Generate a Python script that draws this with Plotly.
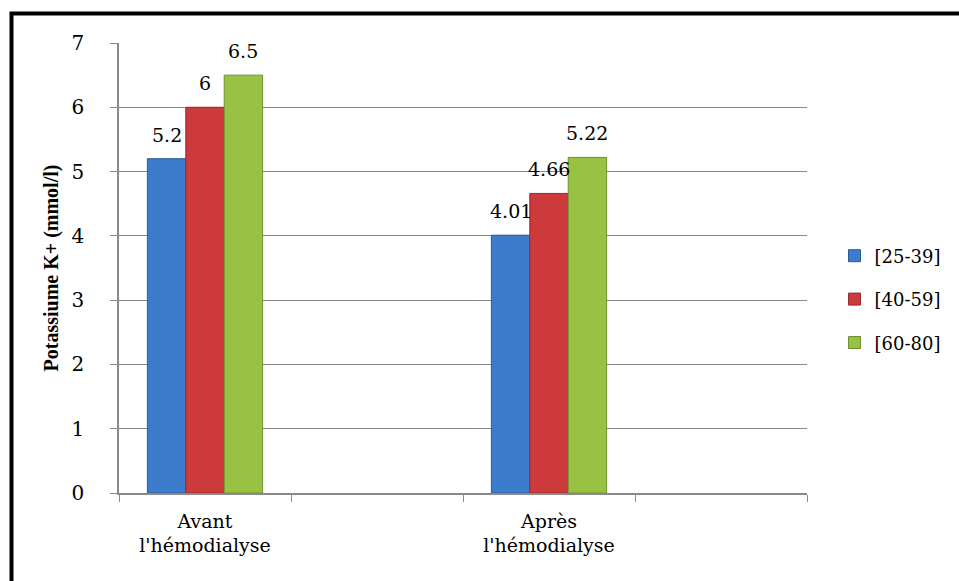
import plotly.graph_objects as go

# Serum potassium by age group, before and after haemodialysis
periods = ["Avant<br>l'hémodialyse", "Après<br>l'hémodialyse"]
axis_slots = [periods[0], " ", periods[1], "  "]
age_groups = ["[25-39]", "[40-59]", "[60-80]"]
k_25_39 = [5.2, 4.01]
k_40_59 = [6, 4.66]
k_60_80 = [6.5, 5.22]
value_labels = [["5.2", "4.01"], ["6", "4.66"], ["6.5", "5.22"]]
y_ticks = [0, 1, 2, 3, 4, 5, 6, 7]

series = [k_25_39, k_40_59, k_60_80]
fills = ["#3d7bcc", "#cd3a3b", "#97c244"]
edges = ["#2b5a98", "#972a2b", "#6f8f30"]

SERIF = "DejaVu Serif"
TITLE_FONT = "Liberation Serif"
W, H = 959, 581
L, R, T, B = 119, 152, 43, 88

fig = go.Figure()
for i, (name, vals) in enumerate(zip(age_groups, series)):
    fig.add_trace(go.Bar(
        name=name, x=periods, y=vals,
        marker=dict(color=fills[i], line=dict(color=edges[i], width=1)),
        legendgroup=name,
    ))

# value labels above each bar
plot_w = W - L - R
slot_w = plot_w / len(axis_slots)
bar_w = slot_w * 0.67 / len(series)
for i, vals in enumerate(series):
    for j, v in enumerate(vals):
        fig.add_annotation(
            x=periods[j], y=v, text=value_labels[i][j], showarrow=False,
            xshift=(i - 1) * bar_w, yanchor="bottom", yshift=11,
            font=dict(family=SERIF, size=19, color="black"),
        )

# chart border (left and top edges are inside the canvas)
fig.add_shape(
    type="rect", xref="paper", yref="paper",
    x0=(11.5 - L) / plot_w, x1=2.0,
    y0=-1.0, y1=(H - B - 13.5) / (H - T - B),
    line=dict(color="black", width=4), fillcolor="rgba(0,0,0,0)", layer="above",
)

fig.update_layout(
    width=W, height=H,
    margin=dict(l=L, r=R, t=T, b=B),
    paper_bgcolor="white", plot_bgcolor="white",
    barmode="group", bargap=0.33, bargroupgap=0,
    font=dict(family=SERIF, size=19, color="black"),
    showlegend=True,
    legend=dict(
        x=1.04, y=0.43, xanchor="left", yanchor="middle",
        font=dict(family=SERIF, size=18, color="black"),
        tracegroupgap=17, itemwidth=30, bgcolor="rgba(0,0,0,0)",
    ),
    xaxis=dict(
        type="category", categoryorder="array", categoryarray=axis_slots,
        range=[-0.5, 3.5],
        showline=True, linecolor="#8a8a8a", linewidth=1.5,
        ticks="outside", ticklen=7, tickcolor="#8a8a8a", tickson="boundaries",
        showgrid=False,
        ticklabelstandoff=10,
        tickfont=dict(family=SERIF, size=19, color="black"),
    ),
    yaxis=dict(
        range=[0, 7], tickvals=y_ticks,
        showline=True, linecolor="#8a8a8a", linewidth=1.5,
        ticks="outside", ticklen=7, tickcolor="#8a8a8a",
        showgrid=True, gridcolor="#8a8a8a", gridwidth=1.2,
        zeroline=False,
        ticklabelstandoff=22,
        tickfont=dict(family=SERIF, size=20, color="black"),
        title=dict(text="<b>Potassiume K+ (mmol/l)</b>", standoff=8,
                   font=dict(family=TITLE_FONT, size=20, color="black")),
    ),
)

fig.write_html("out.html")
